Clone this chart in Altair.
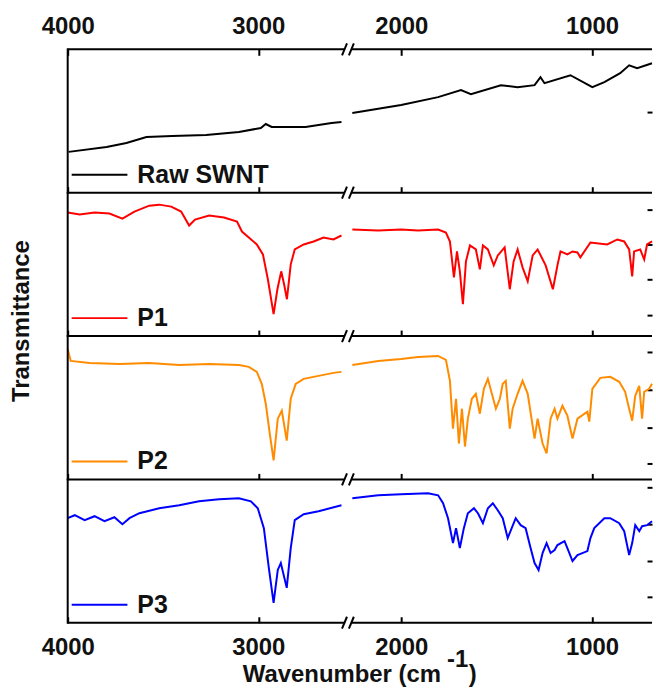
import altair as alt
import pandas as pd

# ---- spectra: wavenumber (cm-1) and transmittance (a.u., per panel) ----
raw_wn = [3995, 3796, 3692, 3587, 3452, 3274, 3102, 2987, 2961, 2930, 2752, 2616, 2564,
          2257, 2001, 1807, 1687, 1635, 1478, 1390, 1301, 1270, 1249, 1113, 998, 935, 852, 805, 763, 685]
raw_t = [41, 46, 50, 56, 57, 58, 61, 65, 69, 66, 66, 70, 71,
         80, 88, 96, 103, 99, 108, 106, 108, 116, 110, 118, 106, 111, 120, 128, 125, 130]

p1_wn = [4000, 3937, 3859, 3781, 3713, 3650, 3572, 3520, 3457, 3405, 3363, 3332, 3258, 3180, 3112,
         3086, 3050, 3008, 2976, 2950, 2920, 2900, 2880, 2865, 2850, 2830, 2809, 2762, 2710, 2658, 2606, 2564,
         2257, 2121, 2001, 1912, 1807, 1766, 1745, 1724, 1708, 1693, 1677, 1661, 1640, 1609, 1588,
         1572, 1546, 1515, 1494, 1458, 1431, 1411, 1390, 1364, 1337, 1311, 1285, 1243, 1205, 1180,
         1165, 1129, 1102, 1076, 1061, 1008, 920, 867, 831, 805, 789, 779, 747, 726, 711, 685]
p1_t = [124, 122, 124, 123, 118, 125, 131, 132, 130, 125, 111, 117, 121, 119, 115,
        105, 99, 92, 82, 57, 22, 47, 65, 52, 37, 72, 87, 92, 95, 99, 97, 101,
        107, 106, 107, 106, 107, 104, 95, 59, 85, 65, 32, 75, 91, 87, 67,
        91, 87, 71, 81, 89, 47, 75, 87, 69, 55, 81, 87, 71, 47, 72,
        85, 82, 85, 84, 79, 94, 92, 97, 95, 87, 60, 85, 87, 77, 92, 95]

p2_wn = [4000, 3984, 3885, 3728, 3572, 3415, 3258, 3102, 3050, 3008, 2982, 2961, 2940, 2920, 2898,
         2877, 2851, 2830, 2804, 2762, 2684, 2606, 2564,
         2257, 2121, 2001, 1912, 1807, 1766, 1745, 1729, 1713, 1698, 1682, 1666, 1651, 1630, 1609,
         1588, 1567, 1546, 1525, 1504, 1483, 1468, 1452, 1431, 1416, 1390, 1364, 1337, 1317, 1301,
         1285, 1259, 1238, 1217, 1196, 1181, 1155, 1129, 1102, 1076, 1024, 1014, 998, 956, 904,
         857, 826, 805, 789, 773, 752, 737, 726, 700, 685]
p2_t = [131, 119, 117, 116, 117, 115, 116, 115, 113, 108, 96, 76, 46, 19, 61,
        69, 39, 81, 96, 101, 104, 107, 108,
        115, 119, 121, 123, 124, 120, 99, 51, 81, 36, 71, 33, 61, 81, 86,
        66, 91, 101, 86, 71, 81, 96, 99, 51, 71, 86, 99, 86, 61, 41,
        61, 36, 26, 61, 71, 61, 74, 64, 41, 61, 68, 58, 91, 102, 103,
        98, 88, 71, 59, 84, 94, 61, 88, 91, 96]

p3_wn = [4000, 3963, 3911, 3859, 3807, 3755, 3713, 3676, 3624, 3520, 3415, 3311, 3206, 3102, 3039,
         3003, 2971, 2945, 2920, 2898, 2882, 2851, 2830, 2809, 2762, 2684, 2564,
         2257, 2121, 2001, 1860, 1807, 1781, 1755, 1729, 1713, 1693, 1672, 1651, 1619, 1598, 1572,
         1546, 1520, 1494, 1468, 1442, 1421, 1400, 1374, 1348, 1322, 1301, 1280, 1259, 1238, 1217,
         1196, 1181, 1144, 1129, 1102, 1076, 1024, 1008, 988, 935, 904, 857, 831, 805, 789, 773,
         752, 737, 711, 685]
p3_t = [105, 108, 103, 107, 102, 106, 99, 105, 110, 115, 118, 122, 124, 125, 122,
        115, 95, 55, 20, 53, 60, 35, 75, 103, 109, 112, 118,
        125, 128, 129, 130, 128, 120, 105, 80, 95, 75, 95, 110, 115, 110, 100,
        115, 120, 113, 105, 85, 95, 105, 98, 95, 75, 60, 53, 70, 80, 70,
        73, 78, 82, 75, 62, 68, 72, 85, 95, 105, 105, 100, 92, 68, 80, 98,
        92, 97, 98, 102]

series_names = ["Raw SWNT", "P1", "P2", "P3"]
series_colors = ["#000000", "#ff0000", "#ff8c00", "#0000ff"]
# right-hand tick positions of each panel (transmittance units)
panel_ticks = [[81], [127, 92, 57, 21], [128, 90, 52, 16], [136, 99, 62, 26]]

# broken wavenumber axis: 4000-2548 | 2262-685, mapped onto one linear coordinate
tick_wn = [4000, 3000, 2000, 1000]
break_wn = [2548, 2262]
frame_w1 = [4000, 2262]
frame_w2 = [2548, 685]

SHIFT = 250
U = lambda f: f"datum.{f} > 2400 ? 4000 - datum.{f} : {4000 - SHIFT} - datum.{f}"
tick_u = [4000 - w if w > 2400 else 4000 - SHIFT - w for w in tick_wn]
LABEL_EXPR = f"format(datum.value < 1470 ? 4000 - datum.value : {4000 - SHIFT} - datum.value, 'd')"

W, H = 587, 144
XDOM = [0, 3065]
FONT = "Liberation Sans"
FS = 24
TXT = "#111111"

xs = alt.Scale(domain=XDOM, nice=False, zero=False)
ys = alt.Scale(domain=[0, H], nice=False, zero=False)
frame = pd.DataFrame({"w1": frame_w1, "w2": frame_w2})
brk = pd.DataFrame({"w": break_wn})
one = pd.DataFrame({"k": [0]})


def x_axis(orient, labels, pad=4):
    return alt.Axis(orient=orient, values=tick_u, labels=labels, labelExpr=LABEL_EXPR,
                    labelFont=FONT, labelFontSize=FS, labelFontWeight="bold", labelColor=TXT,
                    labelPadding=pad, labelFlush=False, labelOverlap=False,
                    domain=False, grid=False, ticks=True, tickSize=6, tickWidth=2,
                    tickColor="black", offset=-6, title=None)


def frame_line(y, axis):
    return (alt.Chart(frame)
            .transform_calculate(u1=U("w1"), u2=U("w2"))
            .mark_rule(color="black", strokeWidth=2)
            .encode(x=alt.X("u1:Q", scale=xs, axis=axis), x2="u2:Q", y=alt.value(y)))


def slashes(y, axis):
    return (alt.Chart(brk)
            .transform_calculate(u=U("w"))
            .transform_calculate(ua="datum.u - 13", ub="datum.u + 13")
            .mark_rule(color="black", strokeWidth=2)
            .encode(x=alt.X("ua:Q", scale=xs, axis=axis), x2="ub:Q",
                    y=alt.value(y + 6), y2=alt.value(y - 6)))


def panel(wn, t, i):
    df = pd.DataFrame({"wn": wn, "t": t})
    color = series_colors[i]
    first, last = i == 0, i == 3
    bottom_axis = x_axis("bottom", last, 13)
    # in the first panel the layers keep separate x axes (top + bottom);
    # elsewhere every x-positioned layer shares the same bottom axis
    other_axis = None if first else bottom_axis
    line = (alt.Chart(df)
            .transform_calculate(u=U("wn"), seg="datum.wn > 2400 ? 'a' : 'b'")
            .mark_line(color=color, strokeWidth=2)
            .encode(x=alt.X("u:Q", scale=xs, axis=bottom_axis),
                    y=alt.Y("t:Q", scale=ys,
                            axis=alt.Axis(orient="right", values=panel_ticks[i], labels=False,
                                          domain=False, grid=False, ticks=True, tickSize=5,
                                          tickWidth=2, tickColor="black", offset=-5, title=None)),
                    detail="seg:N"))
    left = (alt.Chart(one).mark_rule(color="black", strokeWidth=2)
            .encode(x=alt.value(0), y=alt.value(-1), y2=alt.value(H + 1)))
    key = (alt.Chart(one).mark_rule(color=color, strokeWidth=2)
           .encode(x=alt.value(4), x2=alt.value(60), y=alt.value(126)))
    key_text = (alt.Chart(one)
                .mark_text(text=series_names[i], align="left", baseline="middle", font=FONT,
                           fontSize=25, fontWeight="bold", color=TXT)
                .encode(x=alt.value(70), y=alt.value(126)))
    layers = [line, frame_line(H, other_axis), slashes(H, other_axis), left, key, key_text]
    if first:
        layers += [frame_line(0, x_axis("top", True, 11)), slashes(0, None)]
    if i == 1:
        layers.append(alt.Chart(one)
                      .mark_text(text="Transmittance", angle=270, align="center", baseline="middle",
                                 font=FONT, fontSize=FS, fontWeight="bold", color=TXT)
                      .encode(x=alt.value(-46), y=alt.value(129)))
    if last:
        title_style = dict(font=FONT, fontSize=24, fontWeight="bold", color=TXT, baseline="middle")
        layers += [
            alt.Chart(one).mark_text(text="Wavenumber (cm", align="right", **title_style)
            .encode(x=alt.value(375), y=alt.value(197)),
            alt.Chart(one).mark_text(text="-1", align="left", **title_style)
            .encode(x=alt.value(381), y=alt.value(181)),
            alt.Chart(one).mark_text(text=")", align="left", **title_style)
            .encode(x=alt.value(403), y=alt.value(197)),
        ]
    ch = alt.layer(*layers).properties(width=W, height=H)
    if first:
        ch = ch.resolve_axis(x="independent")
    return ch


panels = [panel(raw_wn, raw_t, 0), panel(p1_wn, p1_t, 1),
          panel(p2_wn, p2_t, 2), panel(p3_wn, p3_t, 3)]

chart = (alt.vconcat(*panels, spacing=0, bounds="flush")
         .resolve_scale(x="independent", y="independent")
         .resolve_axis(x="independent", y="independent")
         .properties(padding={"left": 10, "top": 13, "right": 0, "bottom": 0})
         .configure_view(stroke=None))

chart.save("out.html", embed_options={"renderer": "svg", "actions": False})
